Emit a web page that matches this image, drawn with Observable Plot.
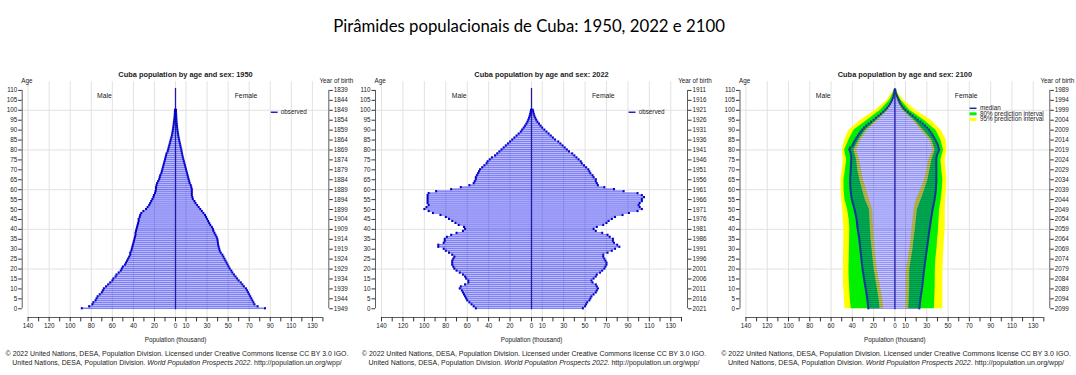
<!DOCTYPE html>
<html><head><meta charset="utf-8">
<script src="https://cdn.jsdelivr.net/npm/d3@7"></script>
<script src="https://cdn.jsdelivr.net/npm/@observablehq/plot@0.6"></script>
<style>
body{margin:0;background:#fff;width:1076px;height:375px;position:relative;overflow:hidden;font-family:"Liberation Sans",Arial,sans-serif;}
#title{position:absolute;top:16px;left:0;width:1058px;text-align:center;font-family:Lato,"Open Sans",sans-serif;font-size:17px;line-height:20px;color:#000;white-space:nowrap;}
.panel{position:absolute;top:0;}
.copy{position:absolute;white-space:nowrap;color:#222;line-height:8px;transform:translateX(-50%);}
</style></head><body>
<div id="title"><span>Pirâmides populacionais de Cuba: 1950, 2022 e 2100</span></div>
<script>
// ---------- data (thousands) ----------
const years = [1950, 2022, 2100];
const birthBase = [1949, 2021, 2099];
const male1950 = [89,82,79,78,76,75,74,72,70,69,
 68,66,64,62,60,59,57,56,54,52,
 51,50,48,47,46,45,44,43,43,42,
 41.5,41,40.5,40,39.5,39,38.5,38,38,37.5,
 37,36.5,36,35.5,35,35,34,33.5,32.5,30.5,
 28,26.5,25,24,23,22,21,20.5,19.5,19,
 18.5,18.5,18,17.5,16.5,15.5,15,14.5,13.5,13,
 12.5,12,11.5,11,10.5,10,9.5,9,8.5,7.5,
 7,6.5,6,5.5,5,4.5,4,3.5,3.1,2.8,
 2.5,2.2,1.9,1.7,1.5,1.2,1,0.8,0.7,0.6,
 0.5];
const female1950 = [85,78,75,74,73,72,71,70,69,68,
 67,65,63.5,62,60,58.5,57,55.5,54,53,
 51.5,50.5,49.5,48.5,47.5,46.5,45.5,44.5,43,42,
 41.5,41,40.5,40.3,40,39.7,39,38,37,36,
 35.5,34.5,33,32,31,30,29,28,26.5,25,
 23.5,22,20.5,19,18,16.5,16,15.5,15.5,15.5,
 15.5,15,14.5,13.5,13,12.5,12,11.5,11,10.5,
 10,9.5,9,8.5,8,7.5,7,6.6,6.2,5.8,
 5.5,5,4.6,4.2,3.8,3.4,3,2.7,2.4,2.1,
 1.8,1.6,1.4,1.2,1,0.9,0.8,0.7,0.6,0.5,
 0.5];
const male2022 = [52,54,56,58,60,61,62,63,64,65,
 67,66,62,59,59,61,62,64,67,70,
 72,73,74,74,74,73,72,74,77,80,
 82,87,87,82,81,81,79,75,70,64,
 62,63,68,71,74,77,80,85,92,96,
 100,98,96,97,97,97,97,97,96,89,
 75,66,58,54,53,52,52,51,50,49,
 48,46,44,42,41,39,37,34,32,30,
 28,26,24,22,20,18,16,14,12,10,
 8.7,7.3,6,4.8,3.8,3,2.3,1.7,1.2,0.8,
 0.5];
const female2022 = [48,50,51,52,54,55,56,58,60,61,
 62,61,60,57,56,58,60,61,64,66,
 68,69,70,70,69,68,67,67,71,75,
 78,82,80,77,76,76,73,71,66,60,
 58,61,67,70,72,75,78,85,91,99,
 103,101,100,101,103,103,105,103,99,86,
 77,68,62,61,60,60,58,57,55,54,
 53,51,49,47,46,44,42,40,38,35,
 33,31,29,27,25,22,20,18,16,14,
 12,10,8.5,7,5.5,4.4,3.5,2.7,2.1,1.6,
 1.2];
const male2100 = [25.0,25.2,25.4,25.6,25.8,26.0,26.3,26.6,26.9,27.2,
 27.5,27.8,28.1,28.4,28.7,29.0,29.3,29.6,29.9,30.2,
 30.5,30.7,30.9,31.1,31.3,31.5,31.7,31.9,32.1,32.3,
 32.5,32.7,32.9,33.1,33.3,33.5,33.8,34.1,34.4,34.7,
 35.0,35.2,35.4,35.6,35.8,36.0,36.4,36.8,37.2,37.6,
 38.0,38.5,39.0,39.5,40.0,40.5,40.8,41.1,41.3,41.5,
 41.7,41.8,41.9,42.0,42.0,42.0,41.9,41.8,41.7,41.6,
 41.5,41.4,41.3,41.2,41.1,41.0,41.0,41.2,41.5,42.0,
 42.8,42.0,40.0,39.2,38.2,37.0,36.0,34.8,33.5,32.2,
 30.7,29.0,27.0,24.8,22.5,20.0,17.7,15.4,13.2,11.0,
 9.0,7.3,5.8,4.5,3.4,2.6,1.9,1.3,0.8,0.5,0.3];
const female2100 = [23.0,23.2,23.4,23.6,23.8,24.0,24.3,24.6,24.9,25.2,
 25.5,25.7,25.9,26.1,26.3,26.5,26.7,26.9,27.1,27.4,
 27.6,27.8,28.1,28.3,28.6,28.8,29.1,29.3,29.6,29.8,
 30.1,30.3,30.6,30.8,31.1,31.3,31.6,31.8,32.1,32.3,
 32.6,32.9,33.2,33.4,33.7,34.0,34.3,34.6,34.9,35.2,
 35.5,35.9,36.3,36.6,37.0,37.3,37.6,37.9,38.1,38.3,
 38.5,38.6,38.7,38.8,38.9,38.9,38.9,38.9,38.9,38.9,
 38.9,38.9,38.9,38.9,38.9,38.9,39.1,39.5,40.2,41.0,
 41.5,41.0,40.5,39.8,38.9,37.9,36.9,35.7,34.5,33.3,
 32.0,30.3,28.3,26.2,24.0,21.5,19.2,16.8,14.5,12.2,
 10.0,8.2,6.6,5.2,4.3,3.6,2.7,1.9,1.2,0.7,0.4];
// 2100 prediction intervals, ages 0,5,...,110
const bandAges = [0,5,10,15,20,25,30,35,40,45,50,55,60,65,70,75,80,85,90,95,100,105,110];
const maleLo95   = [10.5,11.5,13,15,16.5,17.5,18.5,19,19.8,20.5,21,24,26.5,29.5,31.5,33,36,31.7,25.5,15.2,5.8,1.5,0.1];
const maleLo80   = [14,15,16.5,18,19.5,20.5,21.5,22.5,23,23.5,24,28,30.5,33,35,36,38.6,33.9,27.6,17.3,7.3,2,0.2];
const maleHi80   = [41,42,42.5,43,43.2,43,42.8,42.6,42.4,43,44.5,47,47.8,47.9,46.5,45.4,47.3,43.2,38.6,26,13.6,4.9,0.6];
const maleHi95   = [47,47.5,48,48.5,48.5,48.3,48.2,48,48,48.5,49,50,50.5,50.7,49.5,48.5,49.4,47.3,43.2,32.3,18.3,7.3,1.0];
const femaleLo95 = [10,10.3,10.5,10.7,10.8,12.5,14,15,16.1,17,18,20.1,24,27.9,30,31.7,35.8,32.6,24.5,16.7,6.5,2.2,0.2];
const femaleLo80 = [13,13.5,13.8,13.9,14,15.5,17,18,19.2,20.2,21.2,24.8,28,31.1,33,34.8,37.9,34.8,27,18.5,8,2.8,0.3];
const femaleHi80 = [37,37.5,37.8,37.9,38,38.5,39.5,40.2,41,41.5,42,43.5,44.5,45.1,44,43.2,45.7,43.2,38.5,27.5,14,5.8,0.8];
const femaleHi95 = [45,45,45,45.1,45.2,45.5,46,46.5,47.3,47.3,47.3,47.6,48.5,48.9,48,47.3,48.9,48.2,43.5,34,19.5,8.2,1.2];
const ageTicks = d3.range(0, 111, 5);
const xTicks = d3.range(-140, 141, 10);
const xLabelled = [-140,-120,-100,-80,-60,-40,-20,0,10,30,50,70,90,110,130];
const gridAges = [20,40,60,80,100];

// ---------- drawing ----------
const XD = 145.6, YLO = -4.4, YHI = 114.4;
const BAR = "#0000ee", OUT = "#0000c8";
const F = 6.3;

function panel(i, male, female, opts) {
  const rows = male.map((m, a) => ({age: a, m, f: female[a]}));
  const lab = new Set(xLabelled);
  const marks = [
    Plot.ruleX(xLabelled, {y1: YLO, y2: YHI, stroke: "#e2e2e2", strokeWidth: 1}),
    Plot.ruleY(gridAges, {x1: -XD, x2: XD, stroke: "#e2e2e2", strokeWidth: 1})
  ];
  if (opts.bands) {
    const b = bandAges.map((a, j) => ({age: a, mlo95: maleLo95[j], mlo80: maleLo80[j], mhi80: maleHi80[j], mhi95: maleHi95[j],
      flo95: femaleLo95[j], flo80: femaleLo80[j], fhi80: femaleHi80[j], fhi95: femaleHi95[j]}));
    marks.push(
      Plot.areaX(b, {y: "age", x1: d => -d.mhi95, x2: d => -d.mlo95, fill: "#ffff00"}),
      Plot.areaX(b, {y: "age", x1: d => d.flo95, x2: d => d.fhi95, fill: "#ffff00"}),
      Plot.areaX(b, {y: "age", x1: d => -d.mhi80, x2: d => -d.mlo80, fill: "#00f000"}),
      Plot.areaX(b, {y: "age", x1: d => d.flo80, x2: d => d.fhi80, fill: "#00f000"})
    );
  }
  const out = opts.bands ? "#1530a0" : OUT;
  const op = opts.bands ? 0.42 : 0.5;
  marks.push(
    Plot.rectX(rows, {x1: 0, x2: d => -d.m, y1: d => d.age - 0.5, y2: d => d.age + 0.5, fill: BAR, fillOpacity: op, insetTop: 0.22, insetBottom: 0.22}),
    Plot.rectX(rows, {x1: 0, x2: d => d.f, y1: d => d.age - 0.5, y2: d => d.age + 0.5, fill: BAR, fillOpacity: op, insetTop: 0.22, insetBottom: 0.22}),
    Plot.ruleX([0], {y1: -0.5, y2: 111, stroke: "#1c1ca6", strokeWidth: 1.3}),
    Plot.ruleX(rows, {x: d => -d.m, y1: d => d.age - 0.55, y2: d => d.age + 0.55, stroke: out, strokeWidth: 2}),
    Plot.ruleX(rows, {x: d => d.f, y1: d => d.age - 0.55, y2: d => d.age + 0.55, stroke: out, strokeWidth: 2}),
    // axis lines
    Plot.ruleX([-XD], {y1: 0, y2: 110, stroke: "#333", strokeWidth: 0.8}),
    Plot.ruleX([XD], {y1: 0, y2: 110, stroke: "#333", strokeWidth: 0.8}),
    Plot.ruleY([YLO], {x1: -140, x2: 140, stroke: "#333", strokeWidth: 0.8}),
    Plot.axisY(ageTicks, {anchor: "left", tickSize: 3.5, tickPadding: 1.5, fontSize: F, label: null, stroke: "#333"}),
    Plot.axisY(ageTicks, {anchor: "right", tickSize: 3.5, tickPadding: 1.5, fontSize: F, label: null, stroke: "#333", tickFormat: a => String(birthBase[i] - a)}),
    Plot.axisX(xTicks, {anchor: "bottom", tickSize: 4.4, tickPadding: 2, fontSize: F, label: null, stroke: "#333", tickFormat: d => lab.has(d) ? String(Math.abs(d)) : ""}),
    Plot.text(["Age"], {text: d => d, x: -XD, y: 115, dx: -1, textAnchor: "start", fontSize: F}),
    Plot.text(["Year of birth"], {text: d => d, x: XD, y: 115, dx: 7.5, textAnchor: "middle", fontSize: F}),
    Plot.text([`Cuba population by age and sex: ${years[i]}`], {text: d => d, x: 0, y: 118.2, dx: 10, fontSize: 7.4, fontWeight: "bold"}),
    Plot.text(["Male"], {text: d => d, x: -67.5, y: 107.5, fontSize: 6.8}),
    Plot.text(["Female"], {text: d => d, x: 67, y: 107.5, fontSize: 6.8}),
    Plot.text(["Population (thousand)"], {text: d => d, x: 0, y: -15.6, fontSize: F})
  );
  if (opts.bands) {
    const leg = [{t: "median", y: 101, c: "#1530a0", w: 1.5}, {t: "80% prediction interval", y: 98.2, c: "#00f000", w: 3}, {t: "95% prediction interval", y: 95.4, c: "#ffff00", w: 3}];
    marks.push(
      Plot.ruleY(leg, {y: "y", x1: 70.7, x2: 77.2, stroke: "c", strokeWidth: "w"}),
      Plot.text(leg, {y: "y", x: 80, text: "t", textAnchor: "start", fontSize: F})
    );
  } else {
    marks.push(
      Plot.ruleY([99], {x1: 91, x2: 97.5, stroke: "#2222cc", strokeWidth: 1.5}),
      Plot.text(["observed"], {text: d => d, x: 100, y: 99, textAnchor: "start", fontSize: F})
    );
  }
  const svg = Plot.plot({
    width: opts.width, height: 375,
    marginLeft: opts.mL, marginRight: opts.mR, marginTop: 81.2, marginBottom: 58,
    x: {domain: [-XD, XD]},
    y: {domain: [YLO, YHI]},
    style: {fontFamily: '"Liberation Sans", Arial, sans-serif', overflow: "visible", background: "transparent", color: "#222"},
    marks
  });
  const holder = document.createElement("div");
  holder.className = "panel";
  holder.style.left = opts.left + "px";
  holder.appendChild(svg);
  document.body.appendChild(holder);
}

panel(0, male1950, female1950, {left: 0, width: 358, mL: 21.7, mR: 29.7});
panel(1, male2022, female2022, {left: 358, width: 358, mL: 17, mR: 29});
panel(2, male2100, female2100, {left: 716, width: 360, mL: 23.5, mR: 26.7, bands: true});

// ---------- captions ----------
const centers = [177, 534, 896];
const target1 = [343, 345, 350];
centers.forEach((cx, i) => {
  const l1 = document.createElement("div");
  l1.className = "copy";
  l1.innerHTML = "© 2022 United Nations, DESA, Population Division. Licensed under Creative Commons license CC BY 3.0 IGO.";
  const l2 = document.createElement("div");
  l2.className = "copy";
  l2.innerHTML = "United Nations, DESA, Population Division. <i>World Population Prospects 2022</i>. http://population.un.org/wpp/";
  [l1, l2].forEach(el => { el.style.fontSize = "7px"; el.style.left = cx + "px"; document.body.appendChild(el); });
  const w = l1.getBoundingClientRect().width;
  const fs = 7 * target1[i] / w;
  l1.style.fontSize = fs + "px"; l2.style.fontSize = fs + "px";
  l1.style.top = "350px"; l2.style.top = "358.5px";
});
const ts = document.querySelector("#title span");
const tw = ts.getBoundingClientRect().width;
ts.style.fontSize = (17 * 392 / tw) + "px";
</script>
</body></html>
